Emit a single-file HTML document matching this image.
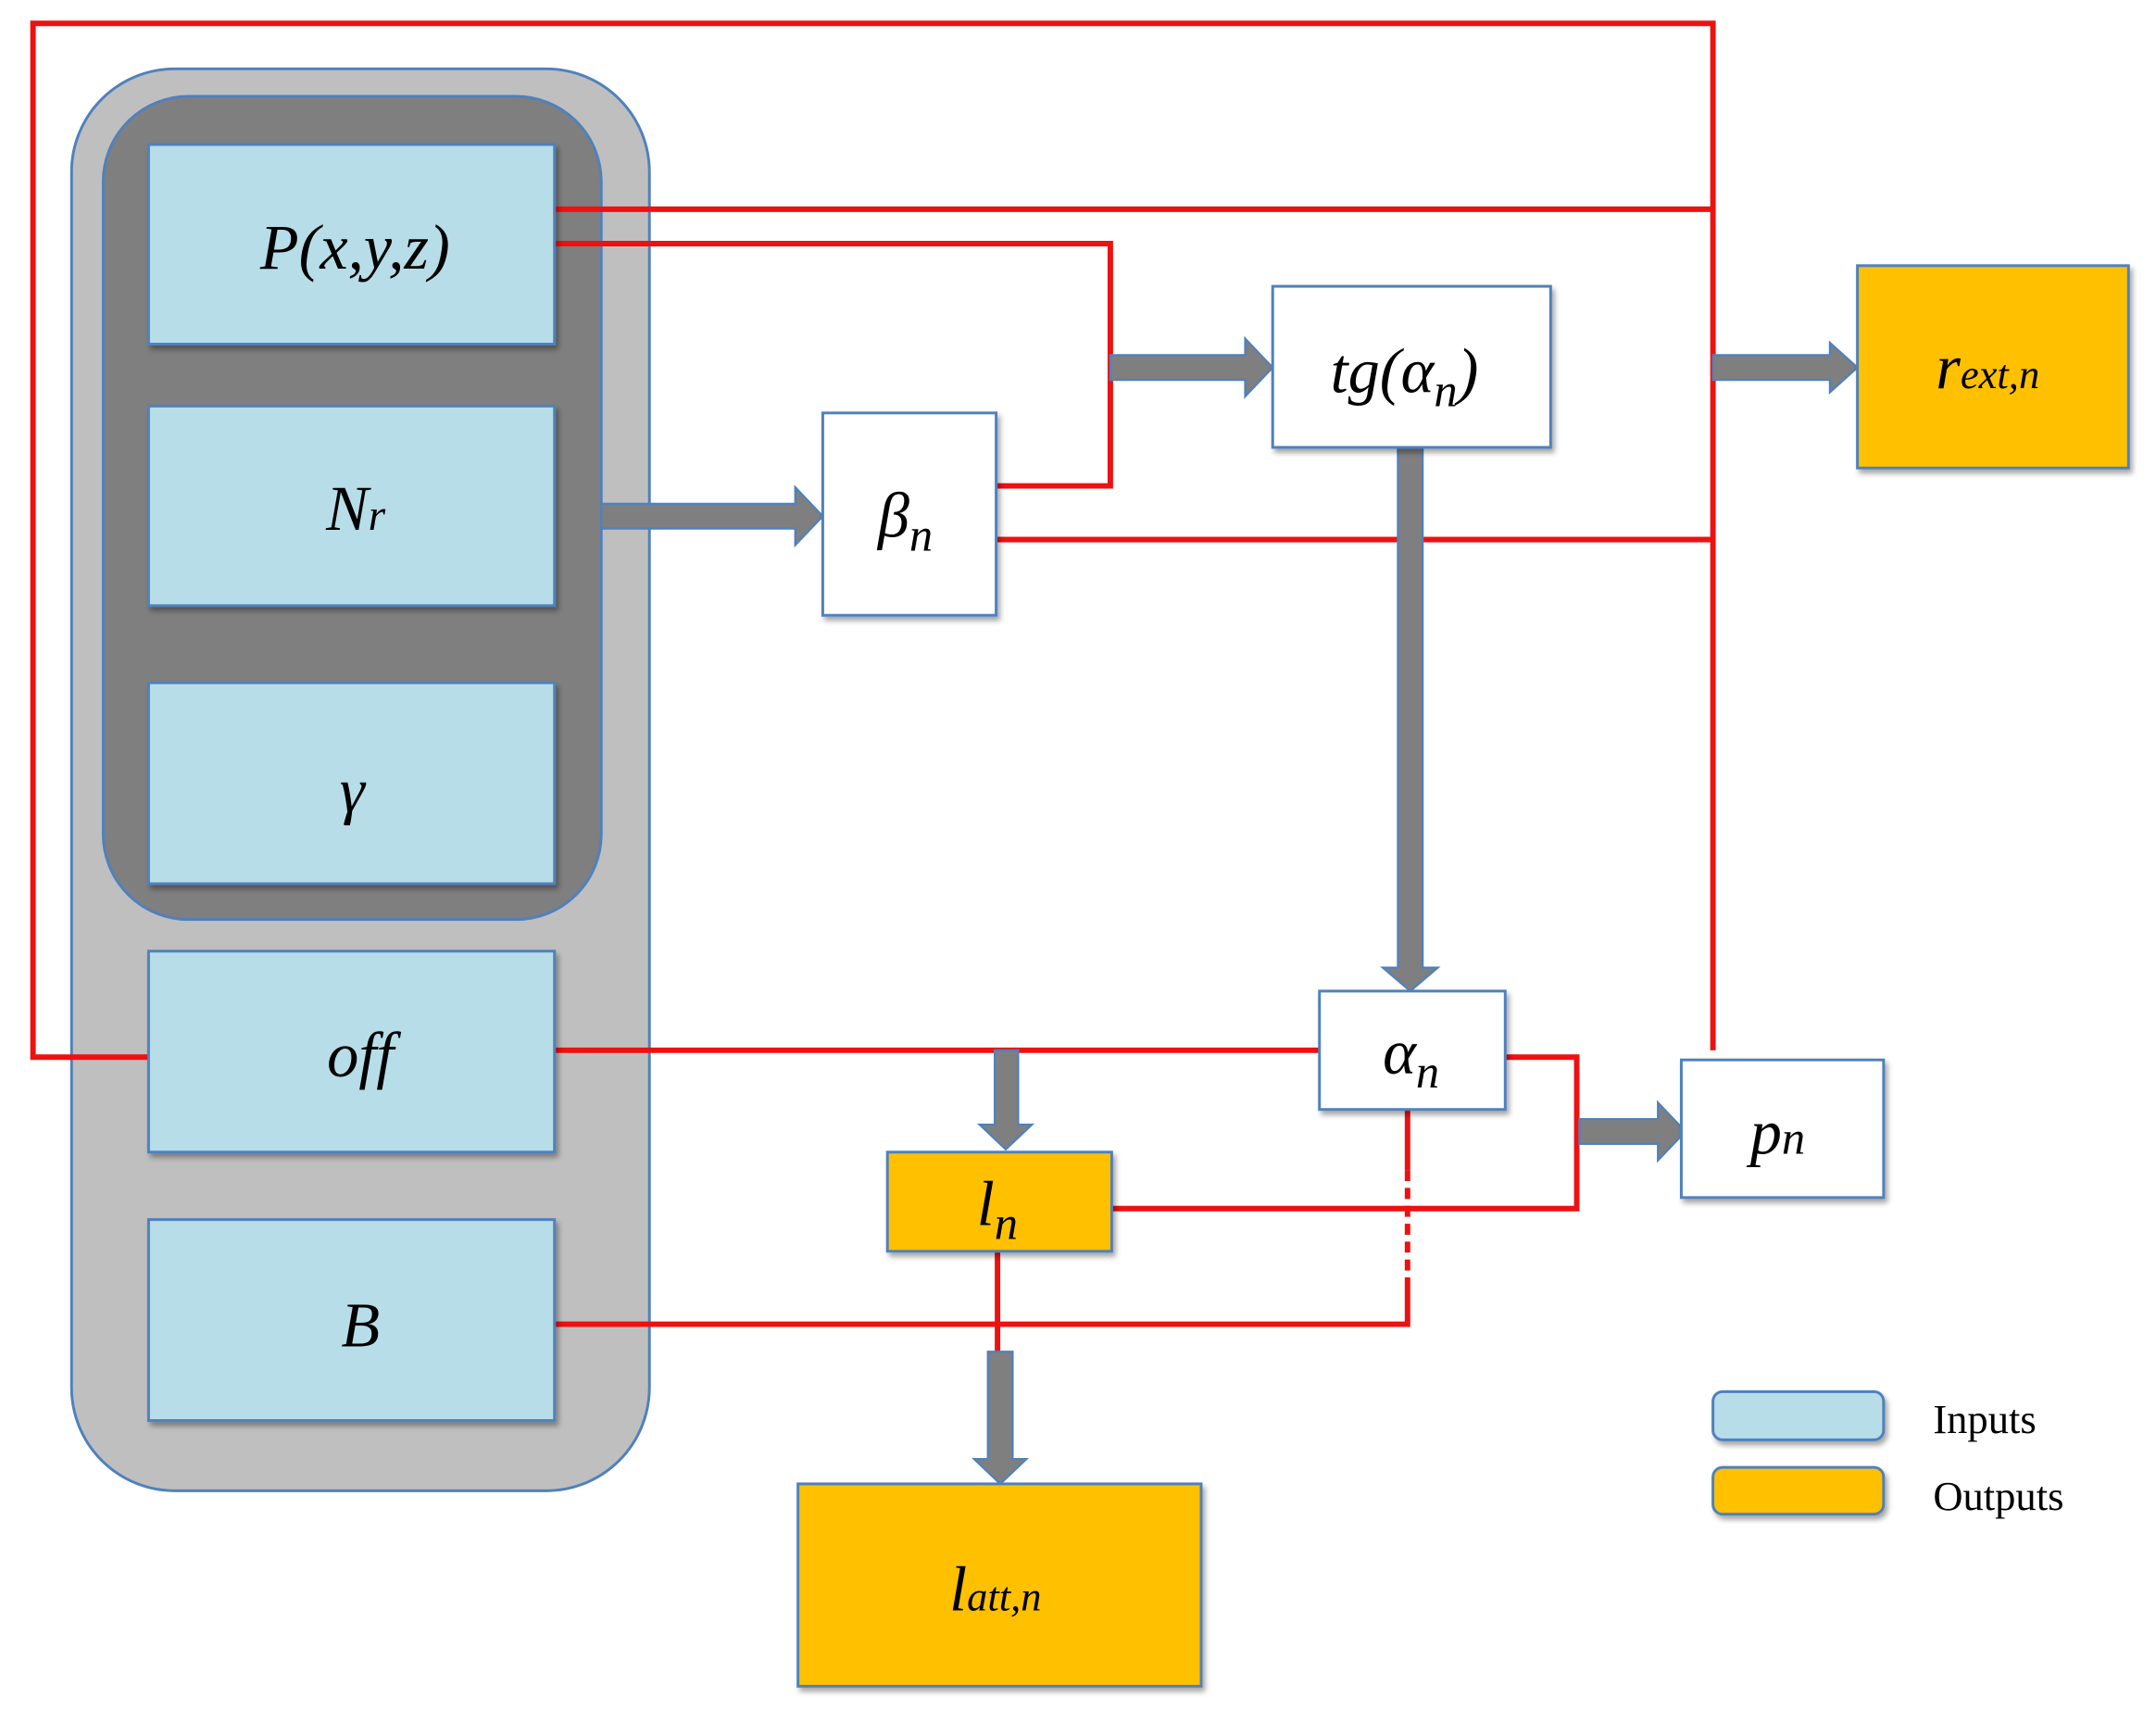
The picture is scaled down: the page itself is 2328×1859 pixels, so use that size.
<!DOCTYPE html>
<html><head><meta charset="utf-8"><style>
html,body{margin:0;padding:0;background:#fff}
svg{display:block}
.t{font-family:"Liberation Serif",serif;font-style:italic;fill:#000}
</style></head><body>
<svg width="2328" height="1859" viewBox="0 0 1567 1251" preserveAspectRatio="none" xmlns="http://www.w3.org/2000/svg">
<defs>
<filter id="sh" x="-10%" y="-10%" width="130%" height="130%"><feDropShadow dx="2" dy="3" stdDeviation="2" flood-color="#000" flood-opacity="0.35"/></filter>
</defs>
<rect x="52" y="50" width="420" height="1033" rx="75" fill="#bfbfbf" stroke="#4f81bd" stroke-width="2"/>
<rect x="75" y="70" width="362" height="598" rx="62" fill="#7f7f7f" stroke="#4f81bd" stroke-width="2"/>
<g stroke="#ee1111" stroke-width="4" fill="none">
<polyline points="108,768 24,768 24,17 1245,17 1245,763"/>
<line x1="403" y1="152" x2="1245" y2="152"/>
<polyline points="403,177 807,177 807,353 724,353"/>
<line x1="724" y1="392" x2="1245" y2="392"/>
<line x1="403" y1="763" x2="959" y2="763"/>
<polyline points="1094,768 1146,768 1146,878 808,878"/>
<polyline points="403,962 1023,962 1023,930"/>
<line x1="1023" y1="806" x2="1023" y2="850"/>
<line x1="1023" y1="850" x2="1023" y2="930" stroke-dasharray="8,5"/>
<line x1="725" y1="909" x2="725" y2="982"/>
</g>
<g fill="#7f7f7f" stroke="#4f81bd" stroke-width="1.5">
<polygon points="437,366 578,366 578,354 598,375 578,396 578,384 437,384"/>
<polygon points="807,258 905,258 905,246 925,267 905,288 905,276 807,276"/>
<polygon points="1245,258 1330,258 1330,249 1350,267 1330,285 1330,276 1245,276"/>
<polygon points="1016,325 1034,325 1034,703 1045,703 1025,720 1005,703 1016,703"/>
<polygon points="723,763 740,763 740,817 750,817 731,835 712,817 723,817"/>
<polygon points="1148,813 1205,813 1205,801 1225,822 1205,843 1205,831 1148,831"/>
<polygon points="718,982 736,982 736,1060 746,1060 727,1078 708,1060 718,1060"/>
</g>
<g fill="#b7dde8" stroke="#4f81bd" stroke-width="2" filter="url(#sh)">
<rect x="108" y="105" width="295" height="145"/>
<rect x="108" y="295" width="295" height="145"/>
<rect x="108" y="496" width="295" height="146"/>
<rect x="108" y="691" width="295" height="146"/>
<rect x="108" y="886" width="295" height="146"/>
</g>
<g fill="#fff" stroke="#4f81bd" stroke-width="2" filter="url(#sh)">
<rect x="598" y="300" width="126" height="147"/>
<rect x="925" y="208" width="202" height="117"/>
<rect x="959" y="720" width="135" height="86"/>
<rect x="1222" y="770" width="147" height="100"/>
</g>
<g fill="#ffc000" stroke="#4f81bd" stroke-width="2" filter="url(#sh)">
<rect x="1350" y="193" width="197" height="147"/>
<rect x="645" y="837" width="163" height="72"/>
<rect x="580" y="1078" width="293" height="147"/>
</g>
<rect x="1245" y="1011" width="124" height="35" rx="7" fill="#b7dde8" stroke="#4f81bd" stroke-width="2" filter="url(#sh)"/>
<rect x="1245" y="1066" width="124" height="34" rx="7" fill="#ffc000" stroke="#4f81bd" stroke-width="2" filter="url(#sh)"/>
<text x="1405" y="1041" font-family="Liberation Serif,serif" font-size="30" fill="#000">Inputs</text>
<text x="1405" y="1097" font-family="Liberation Serif,serif" font-size="30" fill="#000">Outputs</text>
<text class="t" x="258" y="195" font-size="46" text-anchor="middle">P(x,y,z)</text>
<text class="t" x="237" y="385" font-size="46">N<tspan font-size="32">r</tspan></text>
<text class="t" x="256" y="590" font-size="46" text-anchor="middle">γ</text>
<text class="t" x="262" y="782" font-size="46" text-anchor="middle">off</text>
<text class="t" x="262" y="978" font-size="46" text-anchor="middle">B</text>
<text class="t" x="638" y="390" font-size="46">β<tspan font-size="34" dy="10">n</tspan></text>
<text class="t" x="967" y="285" font-size="46">tg(α<tspan font-size="34" dy="10">n</tspan><tspan dy="-10">)</tspan></text>
<text class="t" x="1005" y="780" font-size="46">α<tspan font-size="34" dy="10">n</tspan></text>
<text class="t" x="1272" y="838" font-size="46">p<tspan font-size="34">n</tspan></text>
<text class="t" x="1407" y="282" font-size="46">r<tspan font-size="30">ext,n</tspan></text>
<text class="t" x="710" y="890" font-size="46">l<tspan font-size="34" dy="10">n</tspan></text>
<text class="t" x="690" y="1170" font-size="46">l<tspan font-size="30">att,n</tspan></text>
</svg>
</body></html>
